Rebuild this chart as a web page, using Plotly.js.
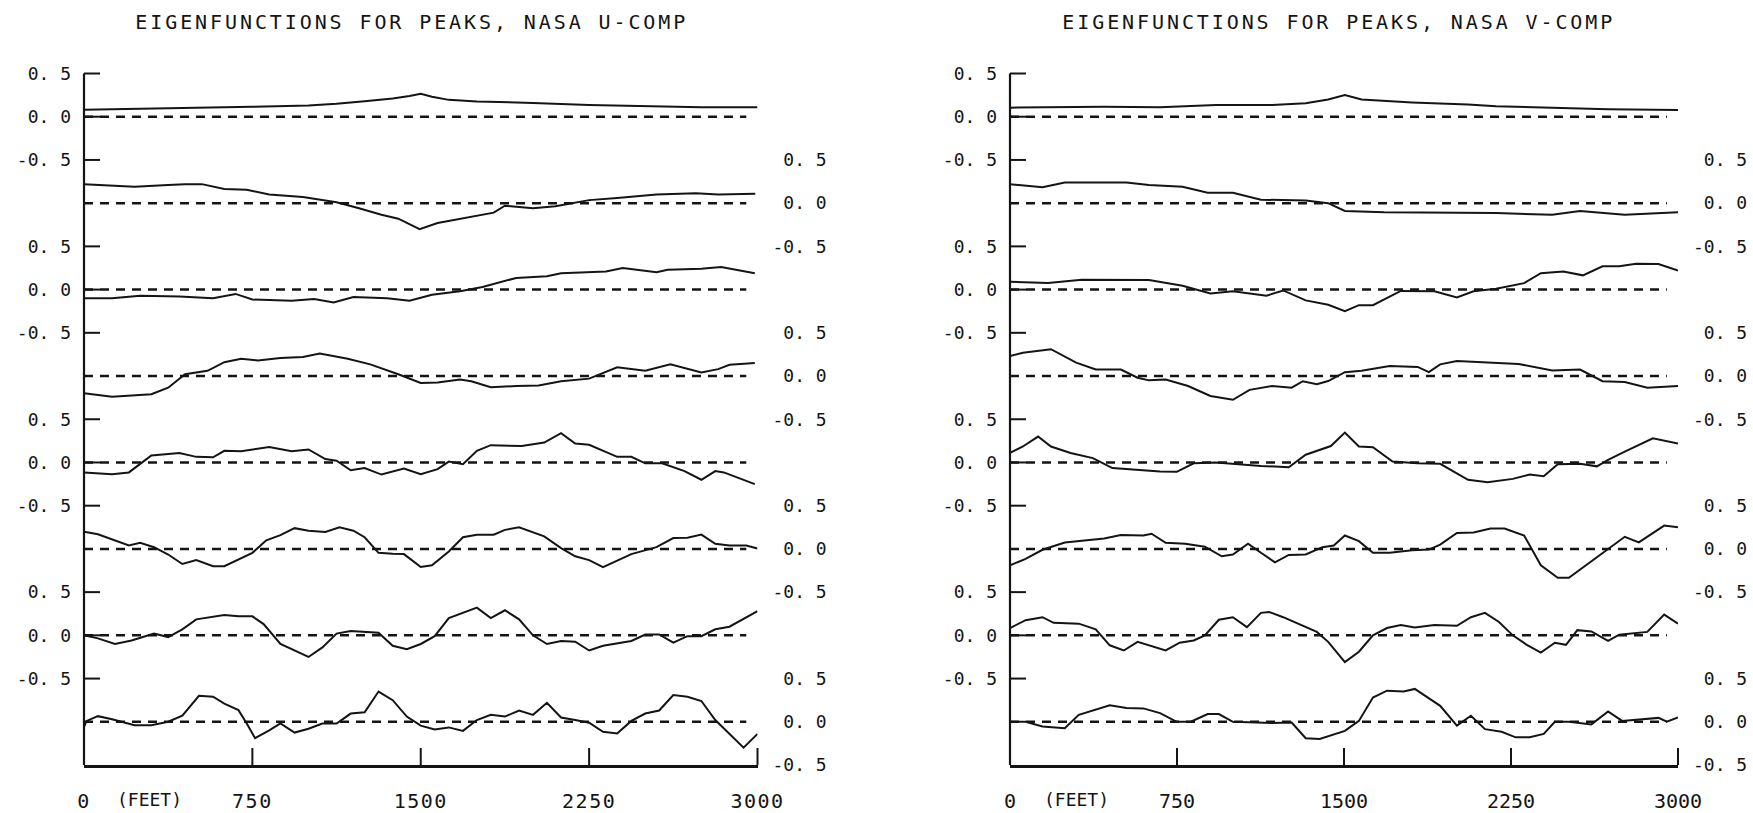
<!DOCTYPE html>
<html>
<head>
<meta charset="utf-8">
<script src="https://cdn.plot.ly/plotly-3.0.1.min.js"></script>
<style>
  html, body { margin: 0; padding: 0; background: #fff; }
  #chart { width: 1753px; height: 813px; }
  .annotation-text.ttl { letter-spacing: 2.9px; }
  .xtick text { letter-spacing: 1.5px; }
</style>
</head>
<body>
<div id="chart"></div>
<script>
// ---------------- DATA (distance in feet, eigenfunction value) ----------------
const panelTitles = ['EIGENFUNCTIONS FOR PEAKS, NASA U-COMP', 'EIGENFUNCTIONS FOR PEAKS, NASA V-COMP'];
const xTickVals = [0, 750, 1500, 2250, 3000];
const xTickText = ['0', '750', '1500', '2250', '3000'];
const xUnitLabel = '(FEET)';
const yTickVals = [-0.5, 0, 0.5];
const yTickText = ['-0. 5', '0. 0', '0. 5'];
const zeroLineFt = [0, 2950];

// U-component eigenfunctions 1..8
const u1_ft  = [0,250,500,750,1000,1125,1250,1375,1450,1500,1550,1625,1750,2000,2250,2500,2750,3000];
const u1_val = [0.08,0.09,0.10,0.115,0.13,0.15,0.18,0.21,0.24,0.265,0.23,0.195,0.175,0.16,0.135,0.12,0.11,0.11];

const u2_ft  = [0,225,375,450,525,625,725,825,975,1125,1225,1325,1400,1495,1575,1725,1825,1875,2000,2100,2250,2375,2550,2725,2825,2990];
const u2_val = [0.22,0.19,0.21,0.22,0.22,0.165,0.155,0.10,0.07,0.01,-0.06,-0.135,-0.18,-0.30,-0.23,-0.155,-0.11,-0.03,-0.06,-0.035,0.035,0.06,0.10,0.115,0.10,0.11];

const u3_ft  = [0,125,250,425,575,675,750,925,1025,1112,1200,1350,1450,1550,1675,1775,1925,2062,2125,2325,2400,2550,2600,2750,2838,2988];
const u3_val = [-0.10,-0.10,-0.07,-0.08,-0.10,-0.05,-0.115,-0.13,-0.11,-0.15,-0.085,-0.10,-0.13,-0.06,-0.02,0.03,0.135,0.155,0.19,0.21,0.25,0.20,0.23,0.24,0.26,0.19];

const u4_ft  = [0,125,300,375,450,550,625,700,775,875,975,1050,1175,1275,1400,1500,1575,1675,1725,1812,1925,2025,2125,2250,2375,2500,2612,2750,2825,2875,2988];
const u4_val = [-0.20,-0.24,-0.21,-0.135,0.02,0.06,0.16,0.20,0.18,0.21,0.22,0.26,0.20,0.135,0.02,-0.08,-0.075,-0.04,-0.06,-0.13,-0.115,-0.11,-0.06,-0.03,0.10,0.06,0.135,0.04,0.08,0.13,0.15];

const u5_ft  = [0,125,200,300,425,500,575,625,700,825,925,1000,1075,1125,1188,1250,1325,1425,1500,1575,1625,1688,1750,1812,1950,2050,2125,2188,2250,2375,2438,2500,2575,2675,2750,2812,2850,2988];
const u5_val = [-0.115,-0.135,-0.115,0.08,0.11,0.065,0.06,0.135,0.13,0.18,0.13,0.15,0.04,0.02,-0.09,-0.065,-0.14,-0.07,-0.135,-0.077,0.01,-0.02,0.135,0.20,0.19,0.23,0.34,0.22,0.205,0.065,0.065,-0.01,-0.01,-0.10,-0.20,-0.10,-0.115,-0.25];

const u6_ft  = [0,62,200,250,312,375,438,500,575,625,750,812,875,938,1000,1075,1138,1200,1250,1312,1375,1425,1500,1550,1625,1688,1750,1825,1875,1938,2050,2125,2188,2250,2312,2375,2438,2550,2625,2688,2750,2812,2875,2950,3000];
const u6_val = [0.20,0.17,0.04,0.07,0.02,-0.065,-0.175,-0.13,-0.20,-0.20,-0.045,0.10,0.16,0.24,0.21,0.195,0.25,0.21,0.135,-0.045,-0.055,-0.06,-0.21,-0.19,-0.03,0.135,0.165,0.165,0.22,0.25,0.145,0.01,-0.085,-0.13,-0.21,-0.135,-0.06,0.02,0.125,0.13,0.165,0.06,0.04,0.04,0.005];

const u7_ft  = [0,62,138,212,312,375,438,500,625,688,750,800,875,938,1000,1062,1125,1188,1250,1312,1375,1438,1500,1562,1625,1688,1750,1812,1875,1938,2000,2062,2125,2188,2250,2312,2375,2438,2500,2562,2625,2688,2750,2812,2875,2938,3000];
const u7_val = [0.0,-0.035,-0.10,-0.06,0.02,-0.02,0.07,0.185,0.235,0.22,0.22,0.13,-0.10,-0.175,-0.25,-0.14,0.02,0.05,0.042,0.03,-0.12,-0.16,-0.10,-0.01,0.20,0.26,0.32,0.20,0.29,0.185,0.0,-0.10,-0.065,-0.073,-0.175,-0.12,-0.09,-0.065,0.01,0.01,-0.085,-0.01,-0.01,0.07,0.10,0.19,0.28];

const u8_ft  = [0,12,62,125,225,300,375,438,512,575,625,688,725,762,825,875,938,1000,1062,1125,1188,1250,1312,1375,1438,1500,1562,1625,1688,1750,1812,1875,1938,2000,2062,2125,2188,2250,2312,2375,2438,2500,2562,2625,2688,2750,2812,2875,2938,3000];
const u8_val = [-0.06,0.01,0.065,0.03,-0.04,-0.04,0.0,0.07,0.30,0.29,0.21,0.135,-0.02,-0.19,-0.10,-0.02,-0.125,-0.08,-0.02,-0.02,0.095,0.11,0.35,0.25,0.06,-0.045,-0.09,-0.065,-0.105,0.02,0.08,0.06,0.13,0.08,0.22,0.05,0.02,-0.01,-0.115,-0.135,0.01,0.095,0.13,0.31,0.29,0.24,0.02,-0.135,-0.30,-0.14];

// V-component eigenfunctions 1..8
const v1_ft  = [0,423,674,925,1177,1328,1429,1504,1579,1806,2057,2183,2435,2686,3000];
const v1_val = [0.105,0.115,0.11,0.135,0.135,0.155,0.20,0.25,0.20,0.165,0.14,0.12,0.105,0.085,0.077];

const v2_ft  = [0,146,246,523,624,775,888,1001,1127,1328,1429,1504,1680,1932,2183,2435,2560,2761,3000];
const v2_val = [0.22,0.185,0.24,0.24,0.21,0.19,0.12,0.12,0.04,0.03,0.0,-0.09,-0.105,-0.108,-0.115,-0.135,-0.09,-0.135,-0.105];

const v3_ft  = [0,171,322,624,775,900,1001,1152,1227,1328,1429,1504,1567,1630,1755,1906,2007,2082,2183,2309,2384,2485,2573,2661,2736,2812,2912,3000];
const v3_val = [0.09,0.075,0.115,0.11,0.045,-0.045,-0.02,-0.07,-0.01,-0.125,-0.175,-0.25,-0.18,-0.18,-0.015,-0.02,-0.09,-0.02,0.01,0.075,0.19,0.21,0.165,0.27,0.27,0.30,0.296,0.22];

const v4_ft  = [0,58,184,297,385,498,573,624,699,800,900,1001,1076,1177,1265,1315,1378,1429,1504,1579,1705,1831,1881,1932,2007,2183,2284,2435,2560,2661,2761,2862,3000];
const v4_val = [0.23,0.27,0.31,0.155,0.075,0.075,-0.02,-0.05,-0.04,-0.115,-0.23,-0.275,-0.16,-0.115,-0.135,-0.06,-0.095,-0.058,0.045,0.06,0.115,0.105,0.045,0.135,0.175,0.155,0.14,0.065,0.075,-0.06,-0.07,-0.135,-0.115];

const v5_ft  = [0,58,126,184,272,372,460,573,674,749,825,925,1127,1252,1328,1441,1504,1567,1630,1718,1831,1932,2057,2145,2258,2334,2397,2460,2560,2636,2686,2761,2887,3000];
const v5_val = [0.11,0.185,0.30,0.185,0.11,0.05,-0.065,-0.085,-0.105,-0.108,-0.01,0.0,-0.04,-0.055,0.09,0.19,0.345,0.185,0.177,0.01,-0.008,-0.015,-0.20,-0.23,-0.19,-0.14,-0.16,-0.02,-0.015,-0.045,0.03,0.125,0.28,0.22];

const v6_ft  = [0,70,146,246,423,498,599,636,699,787,875,951,1001,1069,1127,1190,1252,1328,1403,1454,1504,1567,1630,1705,1806,1881,1932,2007,2082,2158,2221,2309,2384,2460,2510,2611,2686,2761,2824,2938,3000];
const v6_val = [-0.19,-0.115,-0.01,0.075,0.12,0.16,0.155,0.175,0.07,0.06,0.025,-0.085,-0.065,0.06,-0.045,-0.155,-0.07,-0.065,0.02,0.04,0.155,0.09,-0.045,-0.045,-0.015,-0.008,0.05,0.185,0.19,0.235,0.235,0.155,-0.19,-0.335,-0.335,-0.14,0.0,0.14,0.075,0.27,0.25];

const v7_ft  = [0,70,146,196,309,385,448,511,573,649,699,762,825,875,938,1001,1064,1127,1164,1227,1328,1378,1429,1504,1567,1630,1693,1755,1818,1906,2007,2070,2133,2196,2258,2321,2384,2447,2497,2548,2611,2686,2736,2799,2862,2938,3000];
const v7_val = [0.085,0.175,0.21,0.145,0.135,0.07,-0.115,-0.175,-0.075,-0.135,-0.175,-0.085,-0.06,0.0,0.18,0.21,0.095,0.26,0.27,0.21,0.095,0.04,-0.075,-0.31,-0.19,0.0,0.085,0.12,0.09,0.12,0.11,0.21,0.26,0.155,0.0,-0.11,-0.20,-0.085,-0.11,0.06,0.045,-0.065,0.008,0.02,0.04,0.24,0.135];

const v8_ft  = [0,70,146,246,309,385,448,523,599,674,749,812,888,938,1001,1177,1265,1328,1391,1504,1567,1630,1693,1768,1818,1932,2007,2070,2133,2208,2271,2334,2397,2447,2510,2611,2686,2749,2824,2912,2950,3000];
const v8_val = [0.0,0.0,-0.055,-0.075,0.08,0.14,0.19,0.16,0.155,0.10,0.0,0.0,0.09,0.09,0.0,-0.015,-0.008,-0.19,-0.20,-0.105,0.01,0.28,0.36,0.35,0.38,0.185,-0.045,0.07,-0.085,-0.115,-0.18,-0.18,-0.14,0.0,0.0,-0.03,0.12,0.01,0.03,0.045,0.0,0.05];

const uSeries = [[u1_ft,u1_val],[u2_ft,u2_val],[u3_ft,u3_val],[u4_ft,u4_val],[u5_ft,u5_val],[u6_ft,u6_val],[u7_ft,u7_val],[u8_ft,u8_val]];
const vSeries = [[v1_ft,v1_val],[v2_ft,v2_val],[v3_ft,v3_val],[v4_ft,v4_val],[v5_ft,v5_val],[v6_ft,v6_val],[v7_ft,v7_val],[v8_ft,v8_val]];

// ---------------- LAYOUT ----------------
const W = 1753, H = 813;
const FONT = '"DejaVu Sans Mono", "Liberation Mono", monospace';
const INK = '#141414';
const plotTop = 73.5, plotBottom = 765;
const unit = (plotBottom - plotTop) / 8;
const yTickLen = 16, xTickLen = 17;
const panels = [
  {xl: 84, xr: 757.5, series: uSeries, titleX: 412, feetX: 290, name: 'U'},
  {xl: 1010, xr: 1678, series: vSeries, titleX: 1339, feetX: 300, name: 'V'}
];

const nbsp = '\u00A0';
const rightTickText = ['-0. 5', nbsp + '0. 0', nbsp + '0. 5'];

const traces = [];
const layout = {
  width: W, height: H,
  margin: {l: 0, r: 0, t: 0, b: 0},
  paper_bgcolor: '#ffffff', plot_bgcolor: 'rgba(0,0,0,0)',
  showlegend: false,
  font: {family: FONT, color: INK},
  shapes: [], annotations: []
};

panels.forEach((p, pi) => {
  const xKey = pi === 0 ? 'xaxis' : 'xaxis2';
  const xRef = pi === 0 ? 'x' : 'x2';
  const bottomAxisN = pi * 8 + 8;
  const bottomYRef = 'y' + bottomAxisN;
  const yBottomPaper = 1 - plotBottom / H;
  layout[xKey] = {
    domain: [p.xl / W, p.xr / W],
    range: [0, 3000],
    anchor: bottomYRef,
    showline: true, linecolor: INK, linewidth: 2.5,
    ticks: '',
    tickvals: xTickVals, ticktext: xTickText,
    tickfont: {family: FONT, size: 20, color: INK},
    ticklabelstandoff: 16,
    showgrid: false, zeroline: false, fixedrange: true
  };
  // bottom-axis tick marks, pointing up into the plot (paper coordinates)
  xTickVals.slice(1).forEach(v => {
    const xp = (p.xl + (v / 3000) * (p.xr - p.xl)) / W;
    layout.shapes.push({
      type: 'line', xref: 'paper', yref: 'paper', layer: 'above',
      x0: xp, x1: xp, y0: yBottomPaper, y1: yBottomPaper + xTickLen / H,
      line: {color: INK, width: 2}
    });
  });
  p.series.forEach((s, k) => {
    const n = pi * 8 + k + 1;
    const yKey = n === 1 ? 'yaxis' : 'yaxis' + n;
    const yRef = n === 1 ? 'y' : 'y' + n;
    const yt = 1 - (plotTop + k * unit) / H;
    const yb = 1 - (plotTop + (k + 1) * unit) / H;
    const leftSide = (k % 2 === 0);
    layout[yKey] = {
      domain: [yb, yt],
      range: [-0.5, 0.5],
      anchor: xRef,
      side: leftSide ? 'left' : 'right',
      tickvals: yTickVals,
      ticktext: leftSide ? yTickText : rightTickText,
      ticks: '',
      tickfont: {family: FONT, size: 18, color: INK},
      ticklabelstandoff: leftSide ? 12 : 14,
      showline: false, showgrid: false, zeroline: false, fixedrange: true
    };
    if (leftSide) {
      yTickVals.forEach(v => {
        const yp = yb + (v + 0.5) * (yt - yb);
        layout.shapes.push({
          type: 'line', xref: 'paper', yref: 'paper', layer: 'above',
          x0: p.xl / W, x1: (p.xl + yTickLen) / W, y0: yp, y1: yp,
          line: {color: INK, width: 2}
        });
      });
    }
    traces.push({
      type: 'scatter', mode: 'lines',
      x: s[0], y: s[1],
      xaxis: xRef, yaxis: yRef,
      name: p.name + '-comp eigenfunction ' + (k + 1),
      line: {color: INK, width: 2},
      cliponaxis: false,
      hoverinfo: 'skip'
    });
    layout.shapes.push({
      type: 'line', xref: xRef, yref: yRef,
      x0: zeroLineFt[0], x1: zeroLineFt[1], y0: 0, y1: 0,
      line: {color: INK, width: 2.5, dash: '9px,7px'}
    });
  });
  // left vertical axis line for the whole stack
  layout.shapes.push({
    type: 'line', xref: 'paper', yref: 'paper', layer: 'above',
    x0: p.xl / W, x1: p.xl / W, y0: yBottomPaper, y1: 1 - plotTop / H,
    line: {color: INK, width: 2.2}
  });
  layout.annotations.push({
    xref: 'paper', yref: 'paper',
    x: p.titleX / W, y: 1 - 22 / H,
    xanchor: 'center', yanchor: 'middle',
    text: panelTitles[pi], showarrow: false,
    font: {family: FONT, size: 20, color: INK},
    captureevents: false
  });
  layout.annotations.push({
    xref: xRef, yref: 'paper',
    x: p.feetX, y: 1 - 799 / H,
    xanchor: 'center', yanchor: 'middle',
    text: xUnitLabel, showarrow: false,
    font: {family: FONT, size: 18, color: INK}
  });
});

Plotly.newPlot('chart', traces, layout, {displayModeBar: false, staticPlot: true}).then(() => {
  document.querySelectorAll('.annotation-text').forEach(el => {
    if (el.textContent.indexOf('EIGEN') === 0) el.classList.add('ttl');
  });
});
</script>
</body>
</html>
